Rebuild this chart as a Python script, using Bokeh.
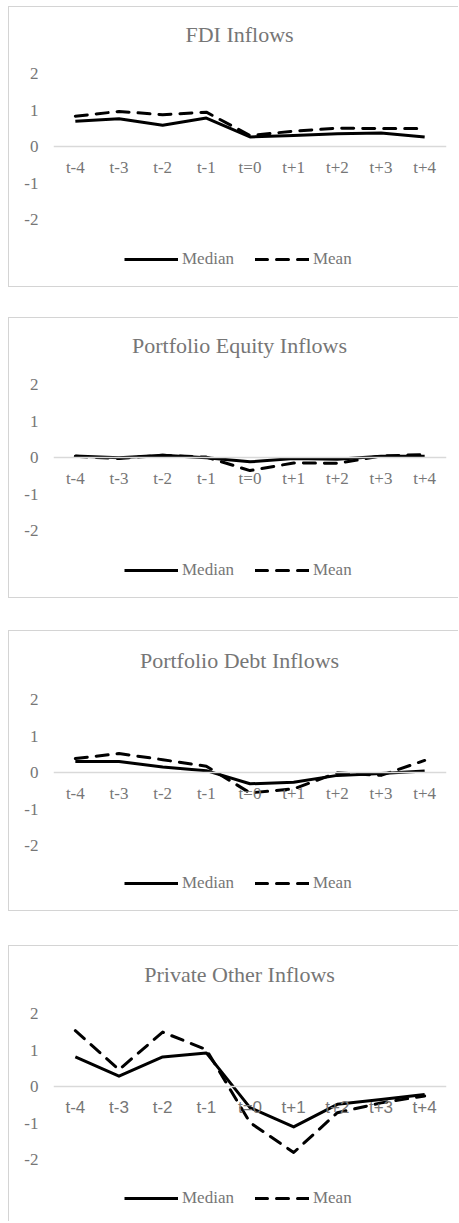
from bokeh.plotting import figure
from bokeh.models import Range1d, FactorRange, FixedTicker, Legend, LegendItem, Label
from bokeh.layouts import column
from bokeh.embed import file_html
from bokeh.resources import INLINE

categories = ["t-4", "t-3", "t-2", "t-1", "t=0", "t+1", "t+2", "t+3", "t+4"]
titles = ["FDI Inflows", "Portfolio Equity Inflows", "Portfolio Debt Inflows", "Private Other Inflows"]

fdi_median = [0.70, 0.77, 0.59, 0.79, 0.27, 0.31, 0.36, 0.38, 0.27]
fdi_mean = [0.84, 0.97, 0.88, 0.95, 0.31, 0.43, 0.51, 0.50, 0.50]

equity_median = [0.05, 0.00, 0.07, 0.00, -0.11, -0.02, -0.04, 0.04, 0.04]
equity_mean = [0.04, -0.02, 0.07, 0.02, -0.35, -0.14, -0.15, 0.05, 0.09]

debt_median = [0.31, 0.31, 0.16, 0.06, -0.30, -0.26, -0.07, -0.02, 0.05]
debt_mean = [0.39, 0.53, 0.36, 0.18, -0.55, -0.44, 0.00, -0.07, 0.34]

other_median = [0.82, 0.29, 0.82, 0.93, -0.57, -1.10, -0.48, -0.35, -0.21]
other_mean = [1.54, 0.47, 1.50, 1.02, -0.98, -1.80, -0.71, -0.44, -0.25]

y_ticks = [-2, -1, 0, 1, 2]
y_tick_labels = ["-2", "-1", "0", "1", "2"]
series_names = ["Median", "Mean"]

GRAY = "#767676"
SERIF = "Liberation Serif"
BORDER = "1px solid #d4d4d4"
Y_MIN, Y_MAX = -3.5, 3.6
FRAME_H = 259          # 7.1 units -> ~36.5 px per unit
TITLE_X = 4.26         # centre of the chart box, in category units
TITLE_Y = 3.08


def make_panel(title, median, mean, height, margin_top, top_pad,
               x_font, x_size, bottom_border=True):
    styles = {"border-top": BORDER, "border-left": BORDER}
    if bottom_border:
        styles["border-bottom"] = BORDER
    p = figure(width=450, height=height,
               x_range=FactorRange(factors=categories, range_padding=0),
               y_range=Range1d(Y_MIN, Y_MAX),
               output_backend="svg", toolbar_location=None,
               min_border_left=44, min_border_right=13,
               min_border_top=top_pad,
               min_border_bottom=height - top_pad - FRAME_H,
               margin=(margin_top, 0, 0, 8), styles=styles)
    p.outline_line_color = None
    p.background_fill_color = "white"
    p.border_fill_color = "white"
    p.xgrid.grid_line_color = None
    p.ygrid.grid_line_color = None

    p.add_layout(Label(x=TITLE_X, y=TITLE_Y, text=title, text_align="center",
                       text_baseline="middle", text_font=SERIF,
                       text_font_size="22px", text_color=GRAY))

    xa = p.xaxis[0]
    xa.fixed_location = 0
    xa.axis_line_color = "#d9d9d9"
    xa.axis_line_width = 1.5
    xa.major_tick_line_color = None
    xa.minor_tick_line_color = None
    xa.major_label_standoff = 5
    xa.major_label_text_font = x_font
    xa.major_label_text_font_size = x_size
    xa.major_label_text_color = GRAY

    ya = p.yaxis[0]
    ya.ticker = FixedTicker(ticks=y_ticks)
    ya.major_label_overrides = {t: s for t, s in zip(y_ticks, y_tick_labels)}
    ya.axis_line_color = None
    ya.major_tick_line_color = None
    ya.minor_tick_line_color = None
    ya.major_tick_out = 0
    ya.major_label_standoff = 15
    ya.major_label_text_font = SERIF
    ya.major_label_text_font_size = "17px"
    ya.major_label_text_color = GRAY

    r_med = p.line(x=categories, y=median, line_color="black", line_width=3,
                   line_join="round")
    r_mean = p.line(x=categories, y=mean, line_color="black", line_width=3,
                    line_dash="12 9", line_cap="round", line_join="round")

    legend = Legend(items=[LegendItem(label=series_names[0], renderers=[r_med]),
                           LegendItem(label=series_names[1], renderers=[r_mean])],
                    location=(71, top_pad - 3), orientation="horizontal",
                    glyph_width=54, glyph_height=20, label_height=20,
                    label_standoff=4, spacing=21, padding=0, margin=0,
                    border_line_color=None, background_fill_alpha=0,
                    label_text_font=SERIF, label_text_font_size="17px",
                    label_text_color=GRAY)
    p.add_layout(legend, "center")
    return p


p1 = make_panel(titles[0], fdi_median, fdi_mean, 281, 6, 8, SERIF, "17px")
p2 = make_panel(titles[1], equity_median, equity_mean, 281, 30, 8, SERIF, "17px")
p3 = make_panel(titles[2], debt_median, debt_mean, 281, 32, 10, SERIF, "17px")
p4 = make_panel(titles[3], other_median, other_mean, 276, 34, 9,
                "Liberation Sans", "17px", bottom_border=False)

layout = column(p1, p2, p3, p4, spacing=0)
open("out.html", "w").write(file_html(layout, INLINE))
